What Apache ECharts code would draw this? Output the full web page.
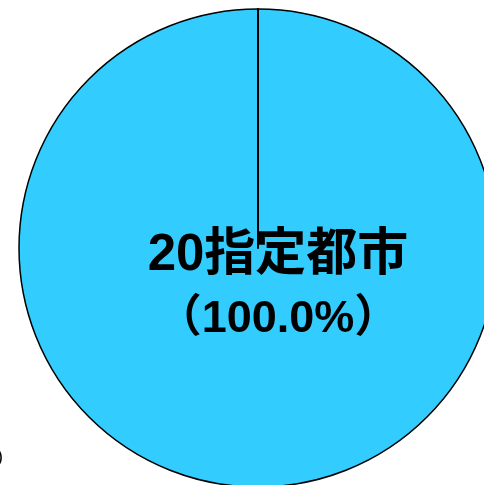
<!DOCTYPE html>
<html>
<head>
<meta charset="utf-8">
<script src="https://cdn.jsdelivr.net/npm/echarts@6/dist/echarts.min.js"></script>
<style>
  html, body { margin: 0; padding: 0; background: #fff; }
  #main { width: 484px; height: 485px; }
</style>
</head>
<body>
<div id="main"></div>
<script>
// slice names and values (second one is the empty seam that draws the radius line)
const names = ["20指定都市", "seam"];
const values = [100, 0];
const sliceColor = "#33CCFF";
const labelFont = "'Liberation Sans', 'Noto Sans CJK JP', sans-serif";

const chart = echarts.init(document.getElementById("main"));

const seriesData = names.map((name, i) => {
  const item = { name: name, value: values[i] };
  if (values[i] === 0) {
    item.label = { show: false };
    item.itemStyle = { borderWidth: 2 };
  }
  return item;
});

const option = {
  animation: false,
  graphic: [
    {
      // clipped bracket from the neighbouring chart
      type: "text",
      left: -3,
      top: 448,
      style: { text: ")", fontSize: 18, fill: "#000", fontFamily: labelFont }
    }
  ],
  series: [
    {
      type: "pie",
      center: [258, 248],
      radius: 239,
      startAngle: 90,
      clockwise: true,
      minAngle: 0,
      avoidLabelOverlap: false,
      itemStyle: {
        color: sliceColor,
        borderColor: "#000",
        borderWidth: 1.5
      },
      label: {
        show: true,
        position: "center",
        offset: [20, 40],
        color: "#000",
        fontFamily: labelFont,
        formatter: p => "{a|" + p.name + "}\n{b|（" + p.percent.toFixed(1) + "%）}",
        rich: {
          a: { fontSize: 51, fontWeight: "bold", lineHeight: 64, fontFamily: labelFont },
          b: { fontSize: 45, fontWeight: "bold", lineHeight: 64, fontFamily: labelFont }
        }
      },
      labelLine: { show: false },
      emphasis: { disabled: true },
      data: seriesData
    }
  ]
};

chart.setOption(option);
</script>
</body>
</html>
